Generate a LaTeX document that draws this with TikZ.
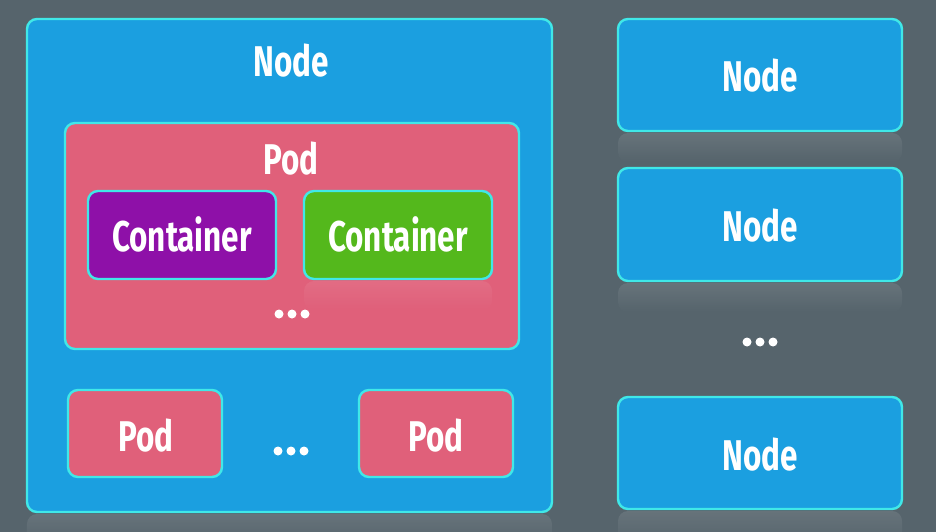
\documentclass[tikz,border=0pt]{standalone}
\usepackage{fontspec}
\setmainfont[FakeStretch=0.73]{Fira Sans}
\usetikzlibrary{fadings}
\definecolor{bgc}{RGB}{86,100,108}
\definecolor{nodeblue}{RGB}{27,159,224}
\definecolor{podpink}{RGB}{224,96,122}
\definecolor{cpurple}{RGB}{142,16,168}
\definecolor{cgreen}{RGB}{84,184,28}
\definecolor{rim}{RGB}{64,232,232}
\tikzset{
  box/.style={draw=rim, line width=2.4pt, rounded corners=10pt},
  lbl/.style={text=white, font=\fontsize{43}{43}\selectfont\bfseries, inner sep=0pt, anchor=base},
  refl/.style={fill=white, fill opacity=0.1, path fading=south, rounded corners=10pt},
  dot/.style={circle, fill=white, inner sep=0pt, minimum size=9pt},
}
\begin{document}
\begin{tikzpicture}[x=1pt,y=-1pt]
\fill[bgc] (0,0) rectangle (936,532);
\useasboundingbox (0,0) rectangle (936,532);
% reflections
\fill[refl] (27,514) rectangle (552,545);
\fill[refl] (618,133) rectangle (902,162);
\fill[refl] (618,283) rectangle (902,312);
\fill[refl] (618,511) rectangle (902,545);
% big node
\draw[box, fill=nodeblue] (27,19) rectangle (552,512);
\node[lbl] (nodeA) at (291,77) {Node};
% pod
\draw[box, fill=podpink] (65,123) rectangle (519,349);
\node[lbl] (podA) at (291,174) {Pod};
\fill[refl, fill opacity=0.08] (304,281) rectangle (492,310);
\draw[box, fill=cpurple] (88,191) rectangle (276,279);
\node[lbl] (c1) at (182,251) {Container};
\draw[box, fill=cgreen] (304,191) rectangle (492,279);
\node[lbl] (c2) at (398,251) {Container};
\node[dot] (d1a) at (279,314) {};
\node[dot] (d1b) at (292,314) {};
\node[dot] (d1c) at (305,314) {};
% bottom pods
\draw[box, fill=podpink] (68,390) rectangle (222,477);
\node[lbl] (p1) at (146,451) {Pod};
\draw[box, fill=podpink] (359,390) rectangle (513,477);
\node[lbl] (p2) at (436,451) {Pod};
\node[dot] (d2a) at (278,451) {};
\node[dot] (d2b) at (291,451) {};
\node[dot] (d2c) at (304,451) {};
% right nodes
\draw[box, fill=nodeblue] (618,19) rectangle (902,131);
\node[lbl] (n1) at (760,92) {Node};
\draw[box, fill=nodeblue] (618,168) rectangle (902,281);
\node[lbl] (n2) at (760,241) {Node};
\draw[box, fill=nodeblue] (618,397) rectangle (902,509);
\node[lbl] (n3) at (760,470) {Node};
\node[dot] (d3a) at (747,342) {};
\node[dot] (d3b) at (760,342) {};
\node[dot] (d3c) at (773,342) {};
\end{tikzpicture}
\end{document}
